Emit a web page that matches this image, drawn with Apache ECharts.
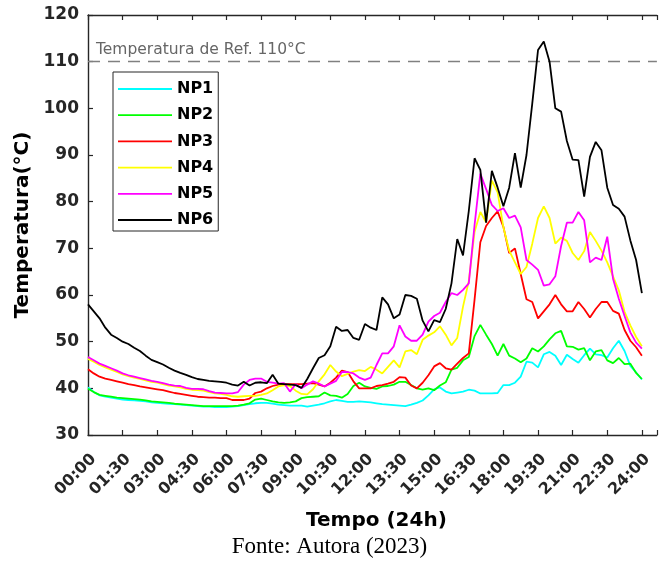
<!DOCTYPE html>
<html><head><meta charset="utf-8">
<script src="https://cdn.jsdelivr.net/npm/echarts@6/dist/echarts.min.js"></script>
<style>html,body{margin:0;padding:0;background:#fff}#c{width:659px;height:564px}</style>
</head><body><div id="c"></div>
<script>
// ---- data ----
const HOURS_PER_SAMPLE = 0.25;
const seriesNames = ['NP1', 'NP2', 'NP3', 'NP4', 'NP5', 'NP6'];
const seriesColors = ['#00FFFF', '#00FF00', '#FF0000', '#FFFF00', '#FF00FF', '#000000'];
const xTickLabels = ['00:00','01:30','03:00','04:30','06:00','07:30','09:00','10:30','12:00','13:30','15:00','16:30','18:00','19:30','21:00','22:30','24:00'];
const refTemperature = 110;
const refLabel = 'Temperatura de Ref. 110°C';

const np1 = [
 40.2, 39.2, 38.5, 38.2, 38.0, 37.8, 37.6, 37.5,
 37.4, 37.3, 37.2, 37.0, 36.9, 36.8, 36.7, 36.6,
 36.5, 36.4, 36.3, 36.2, 36.1, 36.1, 36.0, 36.0,
 36.0, 36.1, 36.2, 36.4, 36.6, 36.8, 36.9, 36.9,
 36.7, 36.5, 36.4, 36.3, 36.3, 36.3, 36.1, 36.3,
 36.5, 36.8, 37.2, 37.5, 37.3, 37.1, 37.1, 37.2,
 37.1, 37.0, 36.8, 36.6, 36.5, 36.4, 36.3, 36.2,
 36.5, 36.9, 37.4, 38.5, 39.8, 40.2, 39.3, 38.9,
 39.1, 39.3, 39.7, 39.5, 38.9, 38.9, 38.9, 39.0,
 40.7, 40.7, 41.2, 42.5, 45.7, 45.5, 44.5, 47.3,
 47.8, 47.0, 45.0, 47.2, 46.3, 45.5, 47.1, 48.5,
 47.3, 47.1, 46.6, 48.6, 50.2, 48.0, 44.8, 43.4,
 41.9];
const np2 = [
 39.9, 39.2, 38.6, 38.4, 38.2, 38.0, 37.9, 37.8,
 37.7, 37.6, 37.4, 37.2, 37.1, 37.0, 36.9, 36.7,
 36.6, 36.5, 36.4, 36.3, 36.2, 36.2, 36.2, 36.2,
 36.2, 36.2, 36.3, 36.5, 36.8, 37.6, 37.8, 37.5,
 37.2, 37.0, 36.9, 37.0, 37.2, 37.9, 38.1, 38.2,
 38.3, 39.1, 38.5, 38.4, 38.0, 38.8, 40.5, 41.2,
 40.4, 40.1, 39.9, 40.4, 40.5, 40.8, 41.4, 41.4,
 40.7, 40.0, 39.7, 40.0, 39.6, 40.6, 41.3, 44.0,
 44.4, 46.0, 46.7, 51.2, 53.6, 51.5, 49.5, 47.0,
 49.5, 47.0, 46.4, 45.6, 46.4, 48.6, 47.9, 49.0,
 50.5, 51.8, 52.3, 49.0, 48.9, 48.3, 48.6, 46.0,
 47.9, 48.2, 46.0, 45.4, 46.5, 45.2, 45.3, 43.3,
 42.0];
const np3 = [
 44.1, 43.2, 42.5, 42.1, 41.8, 41.5, 41.2, 40.9,
 40.7, 40.4, 40.2, 40.0, 39.8, 39.6, 39.3, 39.0,
 38.8, 38.6, 38.4, 38.2, 38.1, 38.0, 38.0, 37.9,
 37.9, 37.5, 37.5, 37.5, 37.8, 39.0, 39.3, 40.0,
 40.5, 40.8, 40.9, 40.9, 40.9, 40.9, 41.0, 41.1,
 40.8, 40.4, 41.2, 42.3, 43.8, 43.5, 41.5, 40.0,
 40.0, 40.0, 40.5, 40.7, 41.0, 41.4, 42.4, 42.3,
 40.6, 40.0, 41.2, 42.8, 44.7, 45.4, 44.3, 44.0,
 45.3, 46.5, 47.5, 59.0, 71.3, 74.8, 76.5, 77.9,
 74.6, 69.0, 70.0, 64.5, 59.1, 58.5, 55.0, 56.5,
 58.0, 60.0, 58.0, 56.5, 56.5, 58.5, 57.0, 55.2,
 57.0, 58.5, 58.5, 56.6, 56.0, 52.5, 50.2, 48.8,
 47.0];
const np4 = [
 46.3, 45.7, 45.0, 44.5, 44.0, 43.5, 43.0, 42.6,
 42.3, 42.0, 41.7, 41.4, 41.2, 40.9, 40.6, 40.4,
 40.2, 39.9, 39.7, 39.6, 39.5, 39.2, 38.9, 38.8,
 38.6, 38.3, 38.2, 38.3, 38.4, 38.4, 38.6, 38.9,
 39.6, 40.4, 40.7, 40.5, 39.5, 38.8, 38.7, 39.8,
 41.5, 43.0, 45.0, 43.6, 42.6, 43.1, 43.6, 43.9,
 43.7, 44.6, 44.0, 43.2, 44.6, 46.0, 44.5, 47.9,
 48.2, 47.3, 50.4, 51.3, 52.0, 53.3, 51.5, 49.2,
 50.8, 57.5, 63.0, 73.5, 77.8, 75.6, 84.5, 82.0,
 74.5, 69.5, 67.0, 64.5, 66.0, 71.0, 76.5, 79.0,
 76.5, 71.0, 72.3, 71.6, 69.0, 67.5, 69.4, 73.5,
 71.6, 69.5, 67.0, 64.0, 61.0, 56.4, 53.5, 51.0,
 49.0];
const np5 = [
 46.7, 46.0, 45.3, 44.8, 44.3, 43.8, 43.2, 42.8,
 42.5, 42.2, 41.9, 41.6, 41.4, 41.1, 40.8, 40.6,
 40.5, 40.1, 39.9, 39.9, 39.8, 39.4, 39.1, 39.0,
 38.9, 38.9, 39.2, 40.8, 41.8, 42.1, 42.1, 41.4,
 41.2, 41.0, 41.1, 39.3, 40.9, 40.0, 40.8, 41.5,
 41.0, 40.4, 41.0, 41.6, 43.5, 43.5, 43.2, 42.3,
 41.8, 42.3, 45.0, 47.5, 47.5, 49.0, 53.5, 51.1,
 50.2, 50.2, 51.5, 54.3, 55.5, 56.2, 58.5, 60.4,
 60.0, 61.1, 62.5, 75.0, 86.0, 82.7, 79.3, 78.0,
 78.6, 76.5, 77.0, 74.5, 67.5, 66.5, 65.4, 62.0,
 62.3, 64.0, 70.5, 75.5, 75.5, 77.8, 76.0, 67.0,
 68.0, 67.5, 72.5, 63.5, 59.2, 55.5, 52.0, 49.8,
 48.5];
const np6 = [
 58.0, 56.5, 55.0, 53.0, 51.5, 50.8, 50.0, 49.5,
 48.7, 48.0, 47.0, 46.1, 45.6, 45.1, 44.4, 43.8,
 43.3, 42.9, 42.4, 42.0, 41.8, 41.6, 41.5, 41.4,
 41.2, 40.8, 40.6, 41.4, 40.6, 41.2, 41.3, 41.1,
 42.9, 41.0, 40.9, 40.8, 40.7, 40.1, 42.0, 44.3,
 46.5, 47.1, 49.0, 53.2, 52.3, 52.5, 50.8, 50.4,
 53.8, 53.0, 52.5, 59.5, 58.0, 55.0, 55.8, 60.0,
 59.8, 59.2, 54.5, 52.2, 54.6, 54.2, 57.0, 62.5,
 72.0, 68.5, 78.0, 89.3, 86.8, 75.5, 86.6, 83.0,
 79.0, 83.0, 90.4, 83.0, 90.0, 101.0, 112.5, 114.3,
 110.0, 100.0, 99.3, 93.0, 89.0, 88.9, 81.1, 89.6,
 92.8, 91.0, 83.0, 79.3, 78.5, 76.8, 71.7, 67.5,
 60.4];
const seriesValues = [np1, np2, np3, np4, np5, np6];

// ---- chart ----
const FONT = 'DejaVu Sans';
const AX = '#262626';
const chart = echarts.init(document.getElementById('c'), null, {renderer: 'canvas'});
const X_MAX = 24.65;
// thin horizontal bar icon (corner specks keep the full item box)
const LINE_ICON = 'path://M0,0 L0.01,0 L0.01,0.01 Z M0,6.1 L54,6.1 L54,7.9 L0,7.9 Z M53.99,14 L54,14 L54,13.99 Z';

const xLabelFmt = v => {
  const k = Math.round(v / 1.5);
  return (Math.abs(k * 1.5 - v) < 1e-6 && k < xTickLabels.length) ? xTickLabels[k] : '';
};

const series = seriesNames.map((name, s) => {
  const o = {
    name: name,
    type: 'line',
    symbol: 'none',
    showSymbol: false,
    smooth: false,
    data: seriesValues[s].map((v, i) => [i * HOURS_PER_SAMPLE, v]),
    lineStyle: {color: seriesColors[s], width: 1.8},
    itemStyle: {color: seriesColors[s]},
    z: 2 + s
  };
  if (s === 0) {
    o.markLine = {
      silent: true, symbol: 'none', animation: false,
      data: [{yAxis: refTemperature}],
      lineStyle: {type: [12, 8], color: '#808080', width: 1.4},
      label: {show: true, position: 'insideStartTop', formatter: refLabel,
        color: '#666666', fontFamily: FONT, fontSize: 15.5, distance: [8, 4]}
    };
  }
  return o;
});

chart.setOption({
  animation: false,
  backgroundColor: '#fff',
  grid: {left: 88, top: 15, right: 0, bottom: 129, containLabel: false},
  xAxis: [{
    type: 'value', min: 0, max: X_MAX, interval: 1.5, position: 'bottom',
    axisLine: {show: true, lineStyle: {color: AX, width: 1.4}},
    axisTick: {show: true, inside: true, length: 5, lineStyle: {color: AX, width: 1.2}},
    splitLine: {show: false},
    axisLabel: {rotate: 45, margin: 16, align: 'right', verticalAlign: 'top',
      fontFamily: FONT, fontWeight: 'bold', fontSize: 16, color: AX, formatter: xLabelFmt},
    name: 'Tempo (24h)', nameLocation: 'middle', nameGap: 76,
    nameTextStyle: {fontFamily: FONT, fontWeight: 'bold', fontSize: 20, color: '#000', padding: [0, 0, 0, 8]}
  }, {
    type: 'value', min: 0, max: X_MAX, interval: 1.5, position: 'top',
    axisLine: {show: true, lineStyle: {color: AX, width: 1.4}},
    axisTick: {show: true, inside: true, length: 5, lineStyle: {color: AX, width: 1.2}},
    splitLine: {show: false}, axisLabel: {show: false}
  }],
  yAxis: {
    type: 'value', min: 30, max: 120, interval: 10,
    axisLine: {show: true, lineStyle: {color: AX, width: 1.4}},
    axisTick: {show: true, inside: true, length: 5, lineStyle: {color: AX, width: 1.2}},
    splitLine: {show: false},
    axisLabel: {margin: 9, fontFamily: FONT, fontWeight: 'bold', fontSize: 17, color: AX},
    name: 'Temperatura(°C)', nameLocation: 'middle', nameGap: 48, nameRotate: 90,
    nameTextStyle: {fontFamily: FONT, fontWeight: 'bold', fontSize: 20, color: '#000'}
  },
  legend: {
    orient: 'vertical', left: 113, top: 72,
    icon: LINE_ICON,
    itemWidth: 54, itemHeight: 14, itemGap: 10.2,
    padding: [9, 5, 3, 5],
    borderColor: AX, borderWidth: 1, backgroundColor: '#fff',
    textStyle: {fontFamily: FONT, fontWeight: 'bold', fontSize: 16, color: '#000', lineHeight: 16},
    data: seriesNames
  },
  graphic: [{
    type: 'text', left: 'center', top: 535,
    style: {text: 'Fonte: Autora (2023)', font: '23px "Liberation Serif"', fill: '#000'}
  }],
  series: series
});
</script></body></html>
